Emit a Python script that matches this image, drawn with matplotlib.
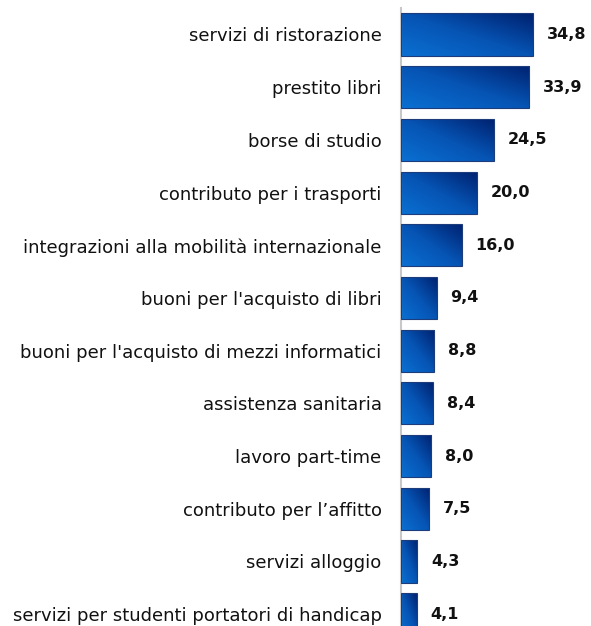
import numpy as np
import matplotlib.pyplot as plt
from matplotlib.colors import LinearSegmentedColormap

# dati
categorie = [
    "servizi di ristorazione",
    "prestito libri",
    "borse di studio",
    "contributo per i trasporti",
    "integrazioni alla mobilità internazionale",
    "buoni per l'acquisto di libri",
    "buoni per l'acquisto di mezzi informatici",
    "assistenza sanitaria",
    "lavoro part-time",
    "contributo per l\u2019affitto",
    "servizi alloggio",
    "servizi per studenti portatori di handicap",
]
valori = [34.8, 33.9, 24.5, 20.0, 16.0, 9.4, 8.8, 8.4, 8.0, 7.5, 4.3, 4.1]

plt.rcParams['font.family'] = ['DejaVu Sans']

fig = plt.figure(figsize=(5.91, 6.26), dpi=100)
ax = fig.add_axes([401 / 591, 0, 190 / 591, 618 / 626])

n = len(valori)
pos = np.arange(n)[::-1].astype(float)  # prima categoria in alto
altezza = 0.8

cmap = LinearSegmentedColormap.from_list("blu", ["#0a70d2", "#0654b4", "#00216f"])

# gradiente diagonale: chiaro in basso a sinistra, scuro in alto a destra
u = np.linspace(0, 1, 64)
U, V = np.meshgrid(u, u)
grad = (U + V) / 2

bars = ax.barh(pos, valori, height=altezza, color='none',
               edgecolor='#1c3c7c', linewidth=0.8, zorder=3)
for b in bars:
    x0, y0 = b.get_x(), b.get_y()
    w, h = b.get_width(), b.get_height()
    im = ax.imshow(grad, cmap=cmap, origin='lower', aspect='auto',
                   extent=(x0, x0 + w, y0, y0 + h), zorder=2,
                   interpolation='bilinear')
    im.set_clip_path(b)

for p, v in zip(pos, valori):
    ax.annotate(f"{v:.1f}".replace('.', ','), (v, p), xytext=(10, 0),
                textcoords='offset points', ha='left', va='center',
                fontsize=11.5, fontweight='bold', color='#111111')

ax.set_xlim(0, 190 / 3.79)
top = (n - 1) + (34.5 - 8) / 52.7
bottom = (n - 1) - (626 - 34.5) / 52.7
ax.set_ylim(bottom, top)

ax.set_yticks(pos)
ax.set_yticklabels(categorie, fontsize=13, color='#111111')
ax.tick_params(axis='y', length=0, pad=14)
ax.set_xticks([])
for s in ['top', 'right', 'bottom']:
    ax.spines[s].set_visible(False)
ax.spines['left'].set_color('#c8c8c8')
ax.spines['left'].set_linewidth(1.5)
ax.set_facecolor('none')

fig.savefig("out.png", dpi=100)
